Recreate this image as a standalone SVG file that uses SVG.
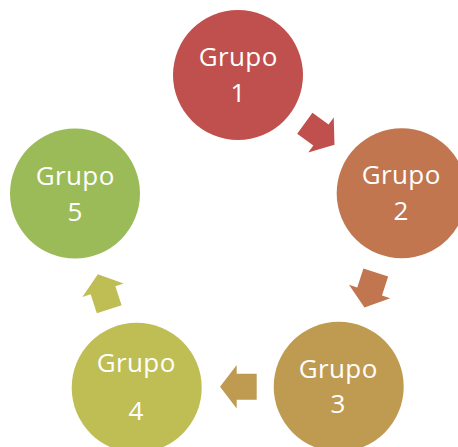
<svg xmlns="http://www.w3.org/2000/svg" width="458" height="447" viewBox="0 0 458 447">
  <defs>
    <style>
      .lbl { font-family: "Open Sans", "Noto Sans", "DejaVu Sans", sans-serif; font-size: 26px; fill: #ffffff; text-anchor: middle; }
      .g { letter-spacing: 0.4px; }
    </style>
    <polygon id="arr" points="0,-13 20,-13 20,-21.7 36.7,0 20,21.7 20,13 0,13"/>
  </defs>
  <rect width="458" height="447" fill="#ffffff"/>
  <g id="connectors">
    <use href="#arr" fill="#C0504D" transform="translate(304.8,123.3) rotate(36)"/>
    <use href="#arr" fill="#C1764F" transform="translate(375.8,272.5) rotate(108)"/>
    <use href="#arr" fill="#BF9B52" transform="translate(256.7,386.7) rotate(180)"/>
    <use href="#arr" fill="#BEBE55" transform="translate(109.2,309.2) rotate(252)"/>
  </g>
  <g id="grupo1">
    <circle cx="238" cy="75" r="65" fill="#C0504D"/>
    <text class="lbl g" x="238.2" y="66">Grupo</text>
    <text class="lbl" x="238" y="102">1</text>
  </g>
  <g id="grupo2">
    <circle cx="401.7" cy="193.3" r="65" fill="#C1764F"/>
    <text class="lbl g" x="401.2" y="184.3">Grupo</text>
    <text class="lbl" x="401" y="220">2</text>
  </g>
  <g id="grupo3">
    <circle cx="338.7" cy="386.7" r="65" fill="#BF9B52"/>
    <text class="lbl g" x="338.2" y="378.3">Grupo</text>
    <text class="lbl" x="338" y="413.3">3</text>
  </g>
  <g id="grupo4">
    <circle cx="136.7" cy="387.7" r="65" fill="#BEBE55"/>
    <text class="lbl g" x="136.2" y="371.7">Grupo</text>
    <text class="lbl" x="136" y="420">4</text>
  </g>
  <g id="grupo5">
    <circle cx="75" cy="193.5" r="65" fill="#9BBB59"/>
    <text class="lbl g" x="75.2" y="185">Grupo</text>
    <text class="lbl" x="75" y="221">5</text>
  </g>
</svg>
